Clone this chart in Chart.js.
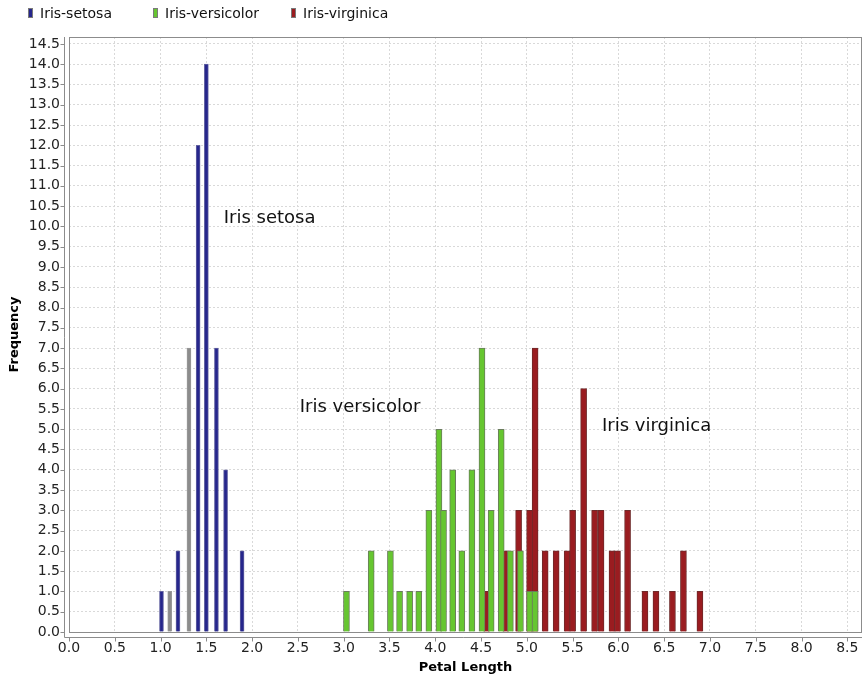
<!DOCTYPE html>
<html>
<head>
<meta charset="utf-8">
<title>Petal Length Histogram</title>
<script src="https://cdn.jsdelivr.net/npm/chart.js@4/dist/chart.umd.min.js"></script>
<style>
  html, body { margin: 0; padding: 0; background: #ffffff; }
  canvas { display: block; }
</style>
</head>
<body>
<canvas id="chart" width="863" height="680"></canvas>
<script>
// Series names
const seriesNames = ['Iris-setosa', 'Iris-versicolor', 'Iris-virginica'];

// Bin centres (petal length, cm) and frequencies per species
const setosaLength = [1.01, 1.10, 1.19, 1.31, 1.41, 1.50, 1.61, 1.71, 1.89];
const setosaCount  = [1, 1, 2, 7, 12, 14, 7, 4, 2];

const versicolorLength = [3.03, 3.30, 3.51, 3.61, 3.72, 3.82, 3.93, 4.04, 4.09, 4.19,
                          4.29, 4.40, 4.51, 4.61, 4.72, 4.82, 4.93, 5.03, 5.09];
const versicolorCount  = [1, 2, 2, 1, 1, 1, 3, 5, 3, 4,
                          2, 4, 7, 3, 5, 2, 2, 1, 1];

const virginicaLength = [4.56, 4.77, 4.91, 5.03, 5.09, 5.20, 5.32, 5.44, 5.50, 5.62,
                         5.74, 5.81, 5.93, 5.99, 6.10, 6.29, 6.41, 6.59, 6.71, 6.89];
const virginicaCount  = [1, 2, 3, 3, 7, 2, 2, 2, 3, 6,
                         3, 3, 2, 2, 3, 1, 1, 1, 2, 1];

// Tick values
const xTickValues = [0, 0.5, 1, 1.5, 2, 2.5, 3, 3.5, 4, 4.5, 5, 5.5, 6, 6.5, 7, 7.5, 8, 8.5];
const yTickValues = [0, 0.5, 1, 1.5, 2, 2.5, 3, 3.5, 4, 4.5, 5, 5.5, 6, 6.5, 7, 7.5,
                     8, 8.5, 9, 9.5, 10, 10.5, 11, 11.5, 12, 12.5, 13, 13.5, 14, 14.5];

// Axis titles
const xTitle = 'Petal Length';
const yTitle = 'Frequency';

// Group captions inside the plot
const groupCaptions = ['Iris setosa', 'Iris versicolor', 'Iris virginica'];

const toPoints = (xs, ys) => xs.map((v, i) => ({ x: v, y: ys[i] }));

// Setosa bars: two of them render in grey
const setosaFill = setosaLength.map((_, i) => (i === 1 || i === 3) ? '#8c8c8c' : '#26268c');
const setosaEdge = setosaLength.map((_, i) => (i === 1 || i === 3) ? '#9a9a9a' : '#6262a0');

Chart.defaults.font.family = "'DejaVu Sans', sans-serif";
Chart.defaults.color = '#222';

// Plot frame, offset axis lines and outer tick marks
const frameAndAxes = {
  id: 'frameAndAxes',
  beforeDatasetsDraw(chart) {
    const { ctx, chartArea: a, scales: { x, y } } = chart;
    const L = Math.round(a.left), R = Math.round(a.right);
    const T = Math.round(a.top), B = Math.round(a.bottom);
    ctx.save();
    ctx.strokeStyle = '#8c8c8c';
    ctx.lineWidth = 1;
    ctx.strokeRect(L + 0.5, T + 0.5, R - L - 1, B - T);
    const ax = L - 5 + 0.5;
    const ay = B + 5 + 0.5;
    ctx.beginPath();
    ctx.moveTo(ax, T);
    ctx.lineTo(ax, ay);
    ctx.lineTo(R, ay);
    y.ticks.forEach(t => {
      const py = Math.round(y.getPixelForValue(t.value)) + 0.5;
      ctx.moveTo(ax - 4, py); ctx.lineTo(ax, py);
    });
    x.ticks.forEach(t => {
      const px = Math.round(x.getPixelForValue(t.value)) + 0.5;
      ctx.moveTo(px, ay); ctx.lineTo(px, ay + 4);
    });
    ctx.stroke();
    ctx.restore();
  }
};

// Legend row at the top left
const seriesKey = {
  id: 'seriesKey',
  afterDraw(chart, args, opts) {
    const { ctx } = chart;
    ctx.save();
    ctx.font = "14px 'DejaVu Sans', sans-serif";
    ctx.textBaseline = 'middle';
    chart.data.datasets.forEach((ds, i) => {
      const mx = opts.markerX[i];
      ctx.fillStyle = ds.keyColor;
      ctx.fillRect(mx, 8, 5, 10);
      ctx.strokeStyle = '#7a7a7a';
      ctx.lineWidth = 1;
      ctx.strokeRect(mx + 0.5, 8.5, 4, 9);
      ctx.fillStyle = '#111';
      ctx.fillText(ds.label, mx + 12, 14);
    });
    ctx.restore();
  }
};

// Captions placed in data coordinates
const captions = {
  id: 'captions',
  afterDatasetsDraw(chart, args, opts) {
    const { ctx, scales: { x, y } } = chart;
    ctx.save();
    ctx.font = "18px 'DejaVu Sans', sans-serif";
    ctx.fillStyle = '#111';
    ctx.textBaseline = 'middle';
    ctx.textAlign = 'left';
    opts.items.forEach(c => {
      ctx.fillText(c.text, x.getPixelForValue(c.x), y.getPixelForValue(c.y));
    });
    ctx.restore();
  }
};

const useTicks = values => scale => {
  scale.ticks = values.map(v => ({ value: v }));
};

new Chart(document.getElementById('chart'), {
  type: 'bar',
  data: {
    datasets: [
      {
        label: seriesNames[0],
        data: toPoints(setosaLength, setosaCount),
        backgroundColor: setosaFill,
        borderColor: setosaEdge,
        borderWidth: 1,
        barThickness: 4,
        grouped: false,
        keyColor: '#26268c'
      },
      {
        label: seriesNames[1],
        data: toPoints(versicolorLength, versicolorCount),
        backgroundColor: '#66c630',
        borderColor: '#6a7d5c',
        borderWidth: 1,
        barThickness: 6,
        grouped: false,
        keyColor: '#66c630'
      },
      {
        label: seriesNames[2],
        data: toPoints(virginicaLength, virginicaCount),
        backgroundColor: '#9a1c20',
        borderColor: '#6e2a2a',
        borderWidth: 1,
        barThickness: 6,
        grouped: false,
        keyColor: '#9a1c20'
      }
    ]
  },
  options: {
    responsive: false,
    animation: false,
    layout: { padding: { top: 37, right: 1, left: 0, bottom: 0 } },
    plugins: {
      legend: { display: false },
      tooltip: { enabled: false },
      seriesKey: { markerX: [28, 153, 291] },
      captions: {
        items: [
          { text: groupCaptions[0], x: 1.69, y: 10.2 },
          { text: groupCaptions[1], x: 2.52, y: 5.55 },
          { text: groupCaptions[2], x: 5.82, y: 5.06 }
        ]
      }
    },
    scales: {
      x: {
        type: 'linear',
        offset: false,
        min: 0,
        max: 8.66,
        afterFit: s => { s.height = 48; s.paddingRight = 0; s.paddingLeft = 0; },
        afterBuildTicks: useTicks(xTickValues),
        ticks: {
          autoSkip: false,
          maxRotation: 0,
          padding: 8,
          color: '#222',
          font: { size: 14 },
          callback: v => Number(v).toFixed(1)
        },
        grid: { offset: false, color: '#d9d9d9', lineWidth: 1, drawTicks: false },
        border: { display: false, dash: [2, 2] },
        title: {
          display: true,
          text: xTitle,
          color: '#000',
          font: { size: 13, weight: 'bold' },
          padding: { top: 0, bottom: 5 }
        }
      },
      y: {
        min: 0,
        max: 14.67,
        afterFit: s => { s.width = 69; },
        afterBuildTicks: useTicks(yTickValues),
        ticks: {
          autoSkip: false,
          padding: 9,
          color: '#222',
          font: { size: 14 },
          callback: v => Number(v).toFixed(1)
        },
        grid: { color: '#d9d9d9', lineWidth: 1, drawTicks: false },
        border: { display: false, dash: [2, 2] },
        title: {
          display: true,
          text: yTitle,
          color: '#000',
          font: { size: 13, weight: 'bold' },
          padding: { top: 7, bottom: 0 }
        }
      }
    }
  },
  plugins: [frameAndAxes, seriesKey, captions]
});
</script>
</body>
</html>
